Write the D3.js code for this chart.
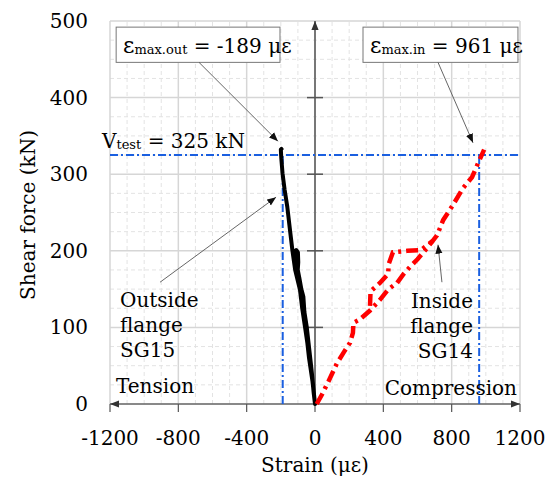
<!DOCTYPE html>
<html>
<head>
<meta charset="utf-8">
<script src="https://cdn.jsdelivr.net/npm/d3@7"></script>
<style>
  html, body { margin: 0; padding: 0; background: #fff; }
  svg { display: block; }
  text { font-family: "DejaVu Serif", serif; fill: #000; }
</style>
</head>
<body>
<svg id="chart" width="553" height="479"></svg>
<script>
// ---- data ----
const xTicks = [-1200, -800, -400, 0, 400, 800, 1200];
const yTicks = [0, 100, 200, 300, 400, 500];
const vTest = 325;
const epsOut = -189;
const epsIn = 961;

// SG15 (outside flange) strain, shear force
const sg15Strain = [0, -15, -35, -50, -70, -88, -105, -125, -110, -100, -98, -102, -92, -80, -68, -62, -48, -38, -20, -8, 0,
                    -20, -45, -58, -75, -88, -116, -132, -148, -162, -178, -190, -197, -200, -196];
const sg15Shear  = [0, 30, 60, 90, 130, 160, 180, 197, 201, 198, 185, 172, 165, 150, 140, 120, 100, 80, 44, 15, 0,
                    44, 80, 100, 125, 149, 175, 200, 230, 257, 280, 301, 320, 332, 333];

// SG14 (inside flange) main curve
const sg14Strain = [10, 40, 80, 128, 170, 205, 222, 225, 260, 322, 380, 430, 480, 520, 556, 600, 650, 714, 750, 808, 867, 919, 954, 990];
const sg14Shear  = [0, 12, 30, 53, 68, 80, 93, 106, 110, 122, 136, 150, 158, 170, 179, 189, 202, 220, 240, 260, 282, 296, 314, 332];
// SG14 branch (first cycle)
const sg14bStrain = [322, 325, 380, 428, 432, 456, 540, 620, 690];
const sg14bShear  = [128, 147, 158, 170, 183, 198, 200, 201, 213];

// ---- chart ----
const svg = d3.select("#chart");
const x = d3.scaleLinear().domain([-1200, 1200]).range([110, 520]);
const y = d3.scaleLinear().domain([0, 500]).range([404, 21]);

const defs = svg.append("defs");
function marker(id, color, size) {
  defs.append("marker").attr("id", id)
    .attr("viewBox", "0 0 10 10").attr("refX", 10).attr("refY", 5)
    .attr("markerWidth", size).attr("markerHeight", size)
    .attr("markerUnits", "userSpaceOnUse")
    .attr("orient", "auto-start-reverse")
    .append("path").attr("d", "M0,1 L10,5 L0,9 Z").attr("fill", color);
}
marker("arr", "#111", 9);
marker("axarr", "#333", 9);

// minor grid
const g = svg.append("g");
const minorX = d3.range(-1200, 1201, 100).filter(v => v % 400 !== 0);
const minorY = d3.range(0, 501, 25).filter(v => v % 100 !== 0);
g.selectAll(".mx").data(minorX).join("line")
  .attr("x1", d => x(d)).attr("x2", d => x(d)).attr("y1", y(0)).attr("y2", y(500))
  .attr("stroke", "#e3e3e3").attr("stroke-width", 1).attr("stroke-dasharray", "4,3");
g.selectAll(".my").data(minorY).join("line")
  .attr("y1", d => y(d)).attr("y2", d => y(d)).attr("x1", x(-1200)).attr("x2", x(1200))
  .attr("stroke", "#e3e3e3").attr("stroke-width", 1).attr("stroke-dasharray", "4,3");
// major grid
g.selectAll(".Mx").data(xTicks).join("line")
  .attr("x1", d => x(d)).attr("x2", d => x(d)).attr("y1", y(0)).attr("y2", y(500))
  .attr("stroke", "#d6d6d6").attr("stroke-width", 1.5);
g.selectAll(".My").data(yTicks).join("line")
  .attr("y1", d => y(d)).attr("y2", d => y(d)).attr("x1", x(-1200)).attr("x2", x(1200))
  .attr("stroke", "#d6d6d6").attr("stroke-width", 1.5);

// axes lines through origin
const ax = svg.append("g");
ax.append("line").attr("x1", x(0)).attr("x2", x(0)).attr("y1", y(0)).attr("y2", y(500))
  .attr("stroke", "#555").attr("stroke-width", 1.5).attr("marker-end", "url(#axarr)");
ax.append("line").attr("x1", x(-1200)).attr("x2", x(1200)).attr("y1", y(0)).attr("y2", y(0))
  .attr("stroke", "#333").attr("stroke-width", 1.2)
  .attr("marker-end", "url(#axarr)").attr("marker-start", "url(#axarr)");
ax.selectAll(".yt").data(yTicks.filter(v => v > 0 && v < 500)).join("line")
  .attr("x1", x(0) - 8).attr("x2", x(0) + 8).attr("y1", d => y(d)).attr("y2", d => y(d))
  .attr("stroke", "#555").attr("stroke-width", 1.5);
ax.selectAll(".xt").data(xTicks).join("line")
  .attr("x1", d => x(d)).attr("x2", d => x(d)).attr("y1", y(0)).attr("y2", y(0) + 8)
  .attr("stroke", "#555").attr("stroke-width", 1.2);

// tick labels
svg.append("g").selectAll("text").data(xTicks).join("text")
  .attr("x", d => x(d)).attr("y", 445).attr("text-anchor", "middle")
  .attr("font-size", 20).text(d => d < 0 ? "-" + Math.abs(d) : String(d));
svg.append("g").selectAll("text").data(yTicks).join("text")
  .attr("x", 88).attr("y", d => y(d) + 7).attr("text-anchor", "end")
  .attr("font-size", 20).text(d => d);

// axis titles
svg.append("text").attr("x", 315).attr("y", 472).attr("text-anchor", "middle")
  .attr("font-size", 20).text("Strain (με)");
svg.append("text").attr("transform", "translate(35,215) rotate(-90)").attr("text-anchor", "middle")
  .attr("font-size", 20).text("Shear force (kN)");

// reference lines
const blue = "#1a5fe0";
const bl = svg.append("g").attr("stroke", blue).attr("stroke-width", 2).attr("stroke-dasharray", "8,3,2,3").attr("fill", "none");
bl.append("line").attr("x1", x(-1200)).attr("x2", x(1200)).attr("y1", y(vTest)).attr("y2", y(vTest));
bl.append("line").attr("x1", x(epsOut)).attr("x2", x(epsOut)).attr("y1", y(0)).attr("y2", y(vTest));
bl.append("line").attr("x1", x(epsIn)).attr("x2", x(epsIn)).attr("y1", y(0)).attr("y2", y(vTest));

// data lines
const line = d3.line().x(d => x(d[0])).y(d => y(d[1])).curve(d3.curveLinear);
const sg15 = sg15Strain.map((s, i) => [s, sg15Shear[i]]);
const sg14 = sg14Strain.map((s, i) => [s, sg14Shear[i]]);
const sg14b = sg14bStrain.map((s, i) => [s, sg14bShear[i]]);
svg.append("path").attr("d", line(sg15)).attr("fill", "none").attr("stroke", "#000")
  .attr("stroke-width", 4).attr("stroke-linejoin", "round").attr("stroke-linecap", "round");
svg.append("path").attr("d", line(sg14b)).attr("fill", "none").attr("stroke", "#ff0000")
  .attr("stroke-width", 4.5).attr("stroke-dasharray", "12,5,3,5");
svg.append("path").attr("d", line(sg14)).attr("fill", "none").attr("stroke", "#ff0000")
  .attr("stroke-width", 4.5).attr("stroke-dasharray", "12,5,3,5");

// annotations
const an = svg.append("g");
function box(x0, x1, yTop, yBot) {
  an.append("rect").attr("x", x(x0)).attr("y", y(yTop)).attr("width", x(x1) - x(x0)).attr("height", y(yBot) - y(yTop))
    .attr("fill", "#fff").attr("stroke", "#777").attr("stroke-width", 1);
}
function arrow(x0, y0, x1, y1) {
  an.append("line").attr("x1", x(x0)).attr("y1", y(y0)).attr("x2", x(x1)).attr("y2", y(y1))
    .attr("stroke", "#555").attr("stroke-width", 0.9).attr("marker-end", "url(#arr)");
}
box(-1164, -205, 492, 446);
box(281, 1188, 492, 446);
function epsLabel(px, sub, rest) {
  const t = an.append("text").attr("x", px).attr("y", 53).attr("font-size", 20);
  t.append("tspan").attr("font-size", 22).text("ε");
  t.append("tspan").attr("font-size", 13).attr("dy", 1).text(sub);
  t.append("tspan").attr("dy", -1).text(rest);
}
epsLabel(123, "max.out", " = -189 με");
epsLabel(370, "max.in", " = 961 με");

arrow(-679, 446, -217, 343);
arrow(720, 446, 925, 341);
arrow(-907, 159, -228, 270);
arrow(743, 159, 720, 208);

const vt = an.append("text").attr("x", 102).attr("y", 148).attr("font-size", 20);
vt.append("tspan").text("V");
vt.append("tspan").attr("font-size", 13).attr("dy", 1).text("test");
vt.append("tspan").attr("dy", -1).text(" = 325 kN");

["Outside", "flange", "SG15"].forEach((s, i) =>
  an.append("text").attr("x", 120).attr("y", 307 + i * 25).attr("font-size", 20).text(s));
["Inside", "flange", "SG14"].forEach((s, i) =>
  an.append("text").attr("x", 473).attr("y", 308 + i * 25).attr("text-anchor", "end").attr("font-size", 20).text(s));
an.append("text").attr("x", 116).attr("y", 393).attr("font-size", 20).text("Tension");
an.append("text").attr("x", 517).attr("y", 395).attr("text-anchor", "end").attr("font-size", 20).text("Compression");
</script>
</body>
</html>
